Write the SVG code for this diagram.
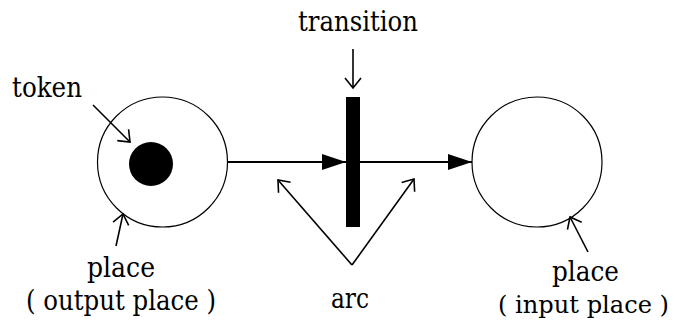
<svg xmlns="http://www.w3.org/2000/svg" width="675" height="323" viewBox="0 0 675 323">
<style>
  .lbl { font-family: 'DejaVu Serif', serif; font-size: 27px; fill: #000; }
  .place { fill: #fff; stroke: #000; stroke-width: 1.2; }
  .arc { stroke: #000; stroke-width: 2; fill: none; }
  .pointer { stroke: #000; stroke-width: 1.6; fill: none; }
</style>
<defs>
  <marker id="solid" markerUnits="userSpaceOnUse" markerWidth="26" markerHeight="18" refX="24" refY="8" orient="auto" overflow="visible">
    <path d="M0,0 L24,8 L0,16 z" fill="#000"/>
  </marker>
  <marker id="open" markerUnits="userSpaceOnUse" markerWidth="14" markerHeight="20" refX="11" refY="9" orient="auto" overflow="visible">
    <path d="M1,1 L11,9 L1,17" fill="none" stroke="#000" stroke-width="1.6"/>
  </marker>
</defs>

<g id="output-place">
  <circle class="place" cx="162.5" cy="162" r="65"/>
</g>
<g id="token">
  <circle cx="151" cy="164" r="22" fill="#000"/>
</g>
<g id="transition">
  <rect x="346" y="97" width="14" height="130" fill="#000"/>
</g>
<g id="input-place">
  <circle class="place" cx="537" cy="162" r="65"/>
</g>

<g id="connectors">
  <line class="arc" x1="228" y1="162" x2="346" y2="162" marker-end="url(#solid)"/>
  <line class="arc" x1="360" y1="162" x2="472" y2="162" marker-end="url(#solid)"/>
</g>

<g id="labels">
  <text class="lbl" x="12" y="97" textLength="70" lengthAdjust="spacingAndGlyphs">token</text>
  <line class="pointer" x1="93" y1="105" x2="130" y2="142" marker-end="url(#open)"/>

  <text class="lbl" x="298" y="31" textLength="120" lengthAdjust="spacingAndGlyphs">transition</text>
  <line class="pointer" x1="353" y1="49" x2="353" y2="88" marker-end="url(#open)"/>

  <text class="lbl" x="87" y="277" textLength="68" lengthAdjust="spacingAndGlyphs">place</text>
  <text class="lbl" x="26" y="310" textLength="190" lengthAdjust="spacingAndGlyphs">( output place )</text>
  <line class="pointer" x1="116" y1="246" x2="123" y2="214" marker-end="url(#open)"/>

  <text class="lbl" x="552" y="281" textLength="67" lengthAdjust="spacingAndGlyphs">place</text>
  <text class="lbl" x="498" y="313" style="font-size:24.5px" textLength="171" lengthAdjust="spacingAndGlyphs">( input place )</text>
  <line class="pointer" x1="588" y1="252" x2="570" y2="217" marker-end="url(#open)"/>

  <text class="lbl" x="331" y="308" textLength="38" lengthAdjust="spacingAndGlyphs">arc</text>
  <line class="pointer" x1="352" y1="265" x2="278" y2="180" marker-end="url(#open)"/>
  <line class="pointer" x1="352" y1="265" x2="414" y2="179" marker-end="url(#open)"/>
</g>
</svg>
